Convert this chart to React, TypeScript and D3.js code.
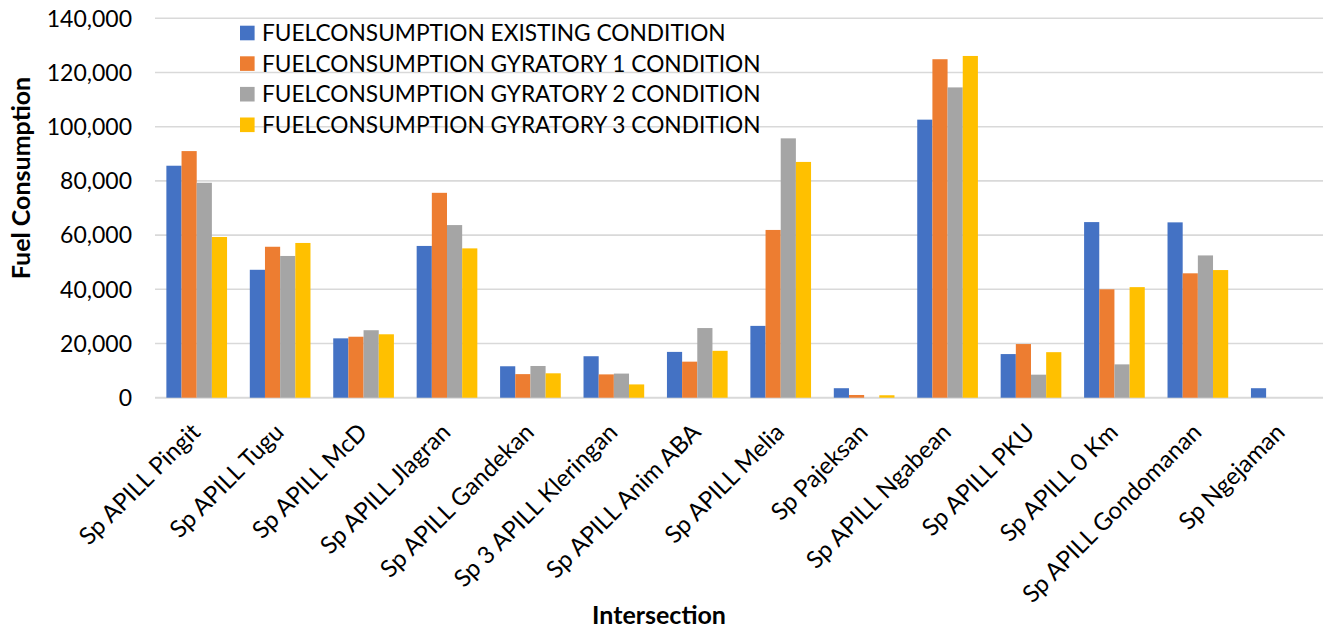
import React from "react";
import * as d3 from "d3";

const categories = [
  "Sp APILL Pingit",
  "Sp APILL Tugu",
  "Sp APILL McD",
  "Sp APILL Jlagran",
  "Sp APILL Gandekan",
  "Sp 3 APILL Kleringan",
  "Sp APILL Anim ABA",
  "Sp APILL Melia",
  "Sp Pajeksan",
  "Sp APILL Ngabean",
  "Sp APILL PKU",
  "Sp APILL 0 Km",
  "Sp APILL Gondomanan",
  "Sp Ngejaman",
];

const seriesNames = [
  "FUELCONSUMPTION EXISTING CONDITION",
  "FUELCONSUMPTION GYRATORY 1 CONDITION",
  "FUELCONSUMPTION GYRATORY 2 CONDITION",
  "FUELCONSUMPTION GYRATORY 3 CONDITION",
];

const existing = [85600, 47200, 21900, 56000, 11600, 15300, 16900, 26500, 3500, 102600, 16100, 64800, 64700, 3500];
const gyratory1 = [91000, 55700, 22500, 75600, 8700, 8600, 13300, 61900, 1000, 124900, 19800, 40000, 45900, 0];
const gyratory2 = [79300, 52300, 24900, 63700, 11700, 8900, 25700, 95700, 0, 114500, 8500, 12300, 52500, 0];
const gyratory3 = [59300, 57100, 23400, 55100, 9000, 4900, 17300, 87000, 900, 126100, 16800, 40800, 47100, 0];

const yTicks = [0, 20000, 40000, 60000, 80000, 100000, 120000, 140000];

const colors = ["#4472C4", "#ED7D31", "#A5A5A5", "#FFC000"];

const FONT = "Lato, 'Open Sans', sans-serif";

export default function App() {
  const width = 1325;
  const height = 630;
  const left = 155;
  const right = 1323;
  const top = 18.3;
  const bottom = 397.7;

  const values = [existing, gyratory1, gyratory2, gyratory3];

  const x = d3
    .scaleBand<string>()
    .domain(categories)
    .range([left, right])
    .paddingInner(1.5 / 5.5)
    .paddingOuter(1.5 / 11);

  const xs = d3
    .scaleBand<number>()
    .domain(d3.range(values.length))
    .range([0, x.bandwidth()]);

  const y = d3.scaleLinear().domain([0, 140000]).range([bottom, top]);
  const fmt = d3.format(",");

  return (
    <svg
      width={width}
      height={height}
      style={{ position: "absolute", left: 0, top: 0, background: "#fff" }}
      fontFamily={FONT}
    >
      {/* gridlines */}
      {yTicks.map((t) => (
        <line
          key={"g" + t}
          x1={left}
          x2={right}
          y1={y(t)}
          y2={y(t)}
          stroke="#d9d9d9"
          strokeWidth={t === 0 ? 2 : 1.6}
        />
      ))}

      {/* y tick labels */}
      {yTicks.map((t) => (
        <text
          key={"t" + t}
          x={132}
          y={y(t)}
          dy="0.36em"
          textAnchor="end"
          fontSize={23}
          fill="#000"
        >
          {fmt(t)}
        </text>
      ))}

      {/* bars */}
      {categories.map((c, i) => (
        <g key={c} transform={`translate(${x(c)},0)`}>
          {values.map((arr, s) =>
            arr[i] > 0 ? (
              <rect
                key={s}
                x={xs(s)}
                y={y(arr[i])}
                width={xs.bandwidth()}
                height={bottom - y(arr[i])}
                fill={colors[s]}
              />
            ) : null
          )}
        </g>
      ))}

      {/* category labels */}
      {categories.map((c) => {
        const cx = (x(c) as number) + x.bandwidth() / 2;
        return (
          <text
            key={"l" + c}
            transform={`translate(${cx + 5},${bottom + 36}) rotate(-45)`}
            textAnchor="end"
            fontSize={24}
            fill="#000"
          >
            {c}
          </text>
        );
      })}

      {/* axis titles */}
      <text
        transform={`translate(30,178) rotate(-90)`}
        textAnchor="middle"
        fontSize={25}
        fontWeight="bold"
        fill="#000"
      >
        Fuel Consumption
      </text>
      <text x={659} y={624} textAnchor="middle" fontSize={25} fontWeight="bold" fill="#000">
        Intersection
      </text>

      {/* legend */}
      {seriesNames.map((n, i) => {
        const cy = 33 + i * 30.6;
        return (
          <g key={n}>
            <rect x={240} y={cy - 7.3} width={14.6} height={14.6} fill={colors[i]} />
            <text x={262} y={cy} dy="0.36em" fontSize={22.7} fill="#000">
              {n}
            </text>
          </g>
        );
      })}
    </svg>
  );
}
